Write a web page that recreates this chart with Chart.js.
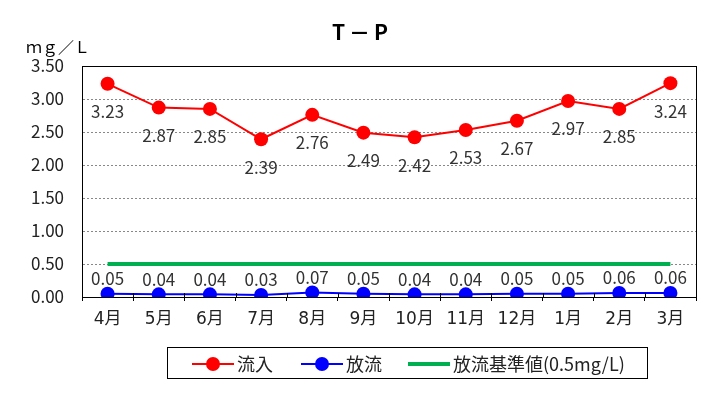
<!DOCTYPE html>
<html lang="ja">
<head>
<meta charset="utf-8">
<title>T－P</title>
<script src="https://cdn.jsdelivr.net/npm/chart.js@4.4.1/dist/chart.umd.min.js"></script>
<style>
  html, body { margin: 0; padding: 0; background: #fff; }
  #wrap { width: 714px; height: 409px; }
</style>
</head>
<body>
<div id="wrap"><canvas id="chart-tp" width="714" height="409"></canvas></div>
<script>
// T－P 月別グラフ

const FONT = '"Noto Sans CJK JP", "Noto Sans", sans-serif';
const FONT_X = '"DejaVu Sans", "Noto Sans CJK JP", sans-serif';

const months = ['4月', '5月', '6月', '7月', '8月', '9月', '10月', '11月', '12月', '1月', '2月', '3月'];
const inflow = [3.23, 2.87, 2.85, 2.39, 2.76, 2.49, 2.42, 2.53, 2.67, 2.97, 2.85, 3.24];
const outflow = [0.05, 0.04, 0.04, 0.03, 0.07, 0.05, 0.04, 0.04, 0.05, 0.05, 0.06, 0.06];
const standard = [0.5, 0.5, 0.5, 0.5, 0.5, 0.5, 0.5, 0.5, 0.5, 0.5, 0.5, 0.5];
const yTicks = [0, 0.5, 1.0, 1.5, 2.0, 2.5, 3.0, 3.5];

const titleText = 'T－P';
const unitText = 'ｍｇ／Ｌ';

// 数値ラベル・タイトル・凡例・枠線
const decoPlugin = {
  id: 'deco',
  afterDatasetsDraw(chart) {
    const ctx = chart.ctx;
    ctx.save();
    ctx.font = '17px ' + FONT;
    ctx.fillStyle = '#333';
    ctx.textAlign = 'center';
    ctx.textBaseline = 'middle';
    chart.data.datasets.forEach((ds, i) => {
      if (!ds.labelOffset) return;
      const meta = chart.getDatasetMeta(i);
      meta.data.forEach((pt, j) => {
        ctx.fillText(ds.data[j].toFixed(2), pt.x, pt.y + ds.labelOffset);
      });
    });
    ctx.restore();
  },
  afterDraw(chart) {
    const ctx = chart.ctx;
    const a = chart.chartArea;
    ctx.save();

    // 枠
    ctx.strokeStyle = '#000';
    ctx.lineWidth = 1;
    ctx.strokeRect(Math.round(a.left) + 0.5, Math.round(a.top) + 0.5,
      Math.round(a.right - a.left), Math.round(a.bottom - a.top));

    // x軸の目盛（内側）
    const xs = chart.scales.x;
    ctx.beginPath();
    for (let k = 1; k < months.length; k++) {
      const gx = Math.round((xs.getPixelForTick(k - 1) + xs.getPixelForTick(k)) / 2) + 0.5;
      ctx.moveTo(gx, a.bottom - 4);
      ctx.lineTo(gx, a.bottom);
    }
    ctx.stroke();

    // タイトル
    ctx.fillStyle = '#000';
    ctx.font = 'bold 21px ' + FONT;
    ctx.textAlign = 'center';
    ctx.textBaseline = 'middle';
    ctx.letterSpacing = '4px';
    ctx.fillText(titleText, 362, 32);
    ctx.letterSpacing = '0px';

    // 単位
    ctx.font = '16px ' + FONT;
    ctx.textAlign = 'left';
    ctx.fillText(unitText, 26, 47);

    // 凡例
    ctx.strokeRect(167.5, 347.5, 480, 31);
    const ly = 364;
    const starts = [192, 301, 408];
    ctx.font = '18px ' + FONT;
    ctx.textBaseline = 'middle';
    chart.data.datasets.forEach((ds, i) => {
      const x1 = starts[i];
      const x2 = x1 + 42;
      ctx.strokeStyle = ds.borderColor;
      ctx.lineWidth = ds.borderWidth;
      ctx.beginPath();
      ctx.moveTo(x1, ly);
      ctx.lineTo(x2, ly);
      ctx.stroke();
      if (ds.pointRadius > 0) {
        ctx.fillStyle = ds.pointBackgroundColor;
        ctx.beginPath();
        ctx.arc((x1 + x2) / 2, ly, ds.pointRadius, 0, Math.PI * 2);
        ctx.fill();
      }
      ctx.fillStyle = '#222';
      ctx.fillText(ds.label, x2 + 3, ly);
    });
    ctx.restore();
  }
};

new Chart(document.getElementById('chart-tp').getContext('2d'), {
  type: 'line',
  data: {
    labels: months,
    datasets: [{
      label: '流入',
      data: inflow,
      borderColor: '#ff0000',
      backgroundColor: '#ff0000',
      pointBackgroundColor: '#ff0000',
      pointBorderWidth: 0,
      pointRadius: 7,
      borderWidth: 2,
      tension: 0,
      labelOffset: 28
    }, {
      label: '放流',
      data: outflow,
      borderColor: '#0000ff',
      backgroundColor: '#0000ff',
      pointBackgroundColor: '#0000ff',
      pointBorderWidth: 0,
      pointRadius: 7,
      borderWidth: 2,
      tension: 0,
      labelOffset: -15
    }, {
      label: '放流基準値(0.5mg/L)',
      data: standard,
      borderColor: '#00b050',
      backgroundColor: '#00b050',
      pointRadius: 0,
      borderWidth: 4,
      tension: 0
    }]
  },
  options: {
    responsive: false,
    animation: false,
    layout: { padding: { top: 66, left: 0, right: 18, bottom: 62 } },
    plugins: {
      legend: { display: false },
      title: { display: false },
      tooltip: { enabled: false }
    },
    scales: {
      x: {
        offset: true,
        afterFit: s => { s.height = 50; },
        grid: {
          offset: true,
          drawOnChartArea: false,
          drawTicks: true,
          tickLength: 4,
          color: '#000'
        },
        border: { display: true, color: '#000', width: 1 },
        ticks: {
          color: '#222',
          padding: 8,
          maxRotation: 0,
          font: { family: FONT_X, size: 17 }
        }
      },
      y: {
        min: 0,
        max: 3.5,
        afterFit: s => { s.width = 82; },
        afterBuildTicks: s => { s.ticks = yTicks.map(v => ({ value: v })); },
        grid: {
          color: '#888',
          lineWidth: 1,
          drawTicks: false
        },
        border: { display: true, color: '#000', width: 1, dash: [2, 2] },
        ticks: {
          color: '#222',
          padding: 18,
          font: { family: FONT, size: 17 },
          callback: v => v.toFixed(2)
        }
      }
    }
  },
  plugins: [decoPlugin]
});
</script>
</body>
</html>
